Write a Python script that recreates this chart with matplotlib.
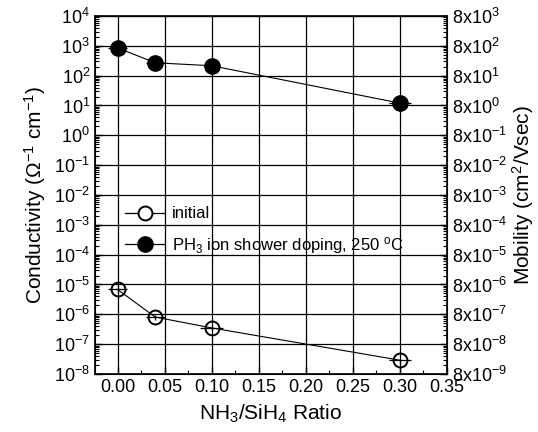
import numpy as np
import matplotlib
matplotlib.use("Agg")
from matplotlib import pyplot as plt
from matplotlib.lines import Line2D
from matplotlib.ticker import LogLocator, FixedLocator, FuncFormatter, MultipleLocator

plt.rcParams['font.family'] = ['Liberation Sans', 'DejaVu Sans']
plt.rcParams['mathtext.fontset'] = 'custom'
plt.rcParams['mathtext.rm'] = 'Liberation Sans'
plt.rcParams['mathtext.it'] = 'Liberation Sans'

# NH3/SiH4 ratio
ratio = [0.00, 0.04, 0.10, 0.30]

# conductivity, as deposited
initial = [6.8e-6, 8.1e-7, 3.5e-7, 2.9e-8]
initial_xerr = [0.010, 0.010, 0.012, 0.012]
initial_yerr_lo = [1.5e-6, 1.5e-7, 0.6e-7, 0.9e-8]
initial_yerr_hi = [1.5e-6, 1.5e-7, 0.6e-7, 0.3e-8]

# conductivity after PH3 ion shower doping
doped = [850, 270, 215, 12]
doped_xerr = [0.010, 0.010, 0.008, 0.012]
doped_yerr = [100, 30, 25, 1.5]

decades = np.arange(-8, 5)

fig = plt.figure(figsize=(5.38, 4.32), dpi=100)
ax = fig.add_axes([0.1766, 0.1343, 0.654, 0.8287])

ax.errorbar(ratio, initial, xerr=initial_xerr, yerr=[initial_yerr_lo, initial_yerr_hi],
            fmt='o', ms=10, mfc='none', mec='black', mew=1.4, color='black',
            ecolor='black', elinewidth=0.9, capsize=0, ls='-', lw=0.8)
ax.errorbar(ratio, doped, xerr=doped_xerr, yerr=doped_yerr,
            fmt='o', ms=11, mfc='black', mec='black', color='black',
            ecolor='black', elinewidth=0.9, capsize=0, ls='-', lw=0.8)

ax.set_yscale('log')
ax.set_ylim(1e-8, 1e4)
ax.set_xlim(-0.024, 0.35)
ax.xaxis.set_major_locator(MultipleLocator(0.05))
ax.xaxis.set_minor_locator(MultipleLocator(0.025))
ax.xaxis.set_major_formatter(FuncFormatter(lambda v, p: "%.2f" % v))
ax.yaxis.set_major_locator(FixedLocator([10.0 ** d for d in decades]))
ax.yaxis.set_minor_locator(LogLocator(base=10, subs=np.arange(2, 10), numticks=20))
ax.yaxis.set_major_formatter(FuncFormatter(lambda v, p: "$10^{%d}$" % round(np.log10(v))))
ax.grid(True, which='major', color='black', lw=0.9)
ax.tick_params(which='both', direction='in', labelsize=13, top=False)
ax.tick_params(which='major', length=5, width=1)
ax.tick_params(which='minor', length=3, width=0.8)
for s in ax.spines.values():
    s.set_linewidth(1.2)

ax.set_xlabel('NH$_3$/SiH$_4$ Ratio', fontsize=15, labelpad=5)
ax.set_ylabel('Conductivity ($\\Omega^{-1}$ cm$^{-1}$)', fontsize=15, labelpad=4)

ax2 = ax.twinx()
ax2.set_yscale('log')
ax2.set_ylim(1e-8, 1e4)
ax2.yaxis.set_major_locator(FixedLocator([10.0 ** d for d in decades]))
ax2.yaxis.set_minor_locator(LogLocator(base=10, subs=np.arange(2, 10), numticks=20))
ax2.yaxis.set_major_formatter(FuncFormatter(lambda v, p: "8x$10^{%d}$" % (round(np.log10(v)) - 1)))
ax2.tick_params(which='both', direction='in', labelsize=13)
ax2.tick_params(which='major', length=5, width=1)
ax2.tick_params(which='minor', length=3, width=0.8)
ax2.set_ylabel('Mobility (cm$^2$/Vsec)', fontsize=15, labelpad=2)

handles = [
    Line2D([], [], color='black', lw=0.9, marker='o', ms=10, mfc='white', mec='black', mew=1.4),
    Line2D([], [], color='black', lw=0.9, marker='o', ms=11, mfc='black', mec='black'),
]
labels = ['initial', 'PH$_3$ ion shower doping, 250 $^o$C']
ax.legend(handles, labels, loc='upper left', bbox_to_anchor=(0.086, 0.468), frameon=False,
          fontsize=12, handlelength=2.4, handletextpad=0.4, labelspacing=0.8,
          borderpad=0, borderaxespad=0)

fig.savefig('out.png', dpi=100)
